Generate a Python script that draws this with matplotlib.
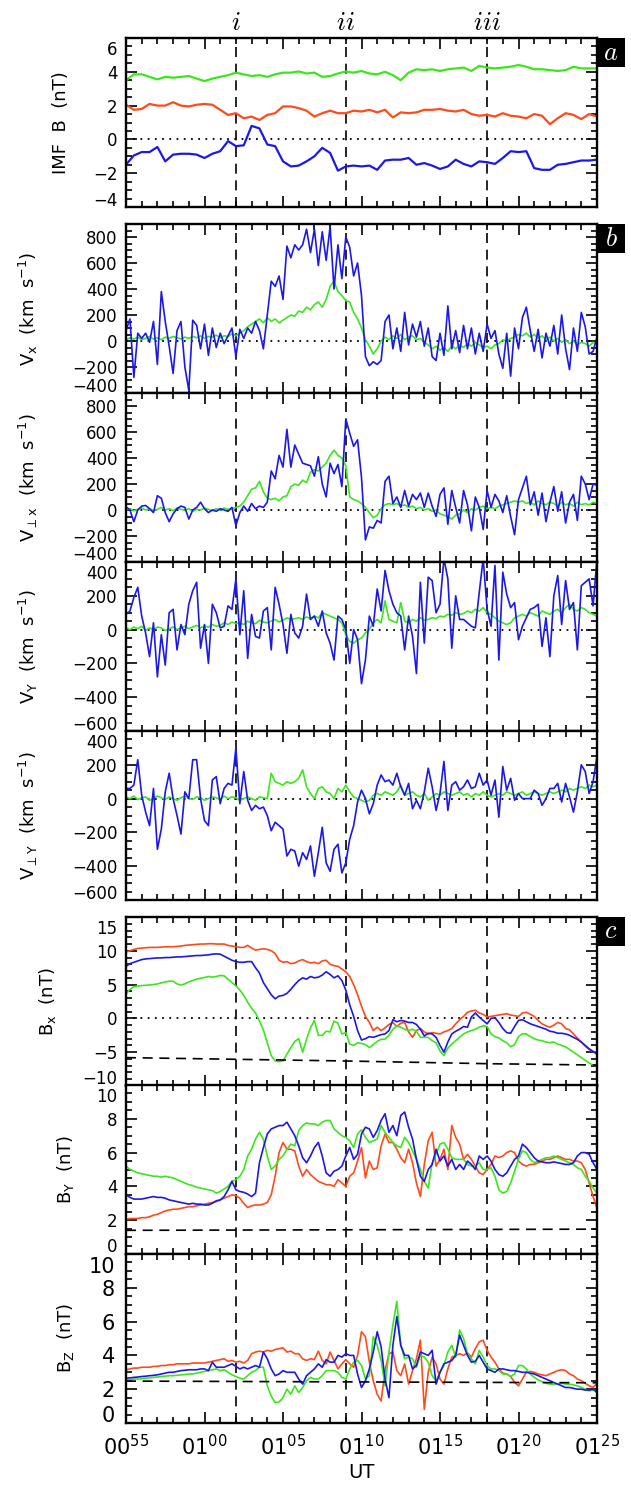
import numpy as np
import matplotlib
matplotlib.use('Agg')
import matplotlib.pyplot as plt
from matplotlib.ticker import MultipleLocator, AutoMinorLocator, FixedLocator, FixedFormatter
from matplotlib.patches import Rectangle
import matplotlib.transforms as mtransforms

plt.rcParams['font.family'] = ['DejaVu Sans']
plt.rcParams['mathtext.fontset'] = 'dejavusans'

# time axes: minutes after 00:55 UT
t_imf = np.arange(61) * 0.5
t_hr = np.arange(121) * 0.25

events = [7.0, 14.0, 23.0]
event_names = ['i', 'ii', 'iii']

xtick_pos = [0, 5, 10, 15, 20, 25, 30]
xtick_names = ['00^{55}', '01^{00}', '01^{05}', '01^{10}', '01^{15}', '01^{20}', '01^{25}']

# ---- panel a: IMF (0.5 min) ----
imf_bt = [3.5, 3.85, 3.85, 3.7, 3.55, 3.7, 3.65, 3.7, 3.75, 3.6,
          3.45, 3.6, 3.7, 3.8, 3.95, 3.85, 3.75, 3.8, 3.7, 3.85,
          3.95, 3.95, 4.02, 3.9, 3.95, 3.7, 3.75, 3.9, 4.02, 3.95,
          4.05, 3.9, 3.85, 4.0, 3.8, 3.5, 3.95, 4.15, 4.1, 4.15,
          4.05, 4.15, 4.2, 4.25, 4.05, 4.35, 4.25, 4.2, 4.25, 4.3,
          4.4, 4.3, 4.15, 4.15, 4.1, 4.05, 4.1, 4.3, 4.2, 4.2,
          4.2]
imf_by = [2.05, 1.75, 1.8, 2.1, 2.0, 2.0, 2.2, 2.0, 1.95, 2.05,
          2.1, 2.05, 1.75, 1.45, 1.55, 1.25, 1.35, 1.15, 1.45, 1.55,
          1.95, 1.95, 1.85, 1.7, 1.35, 1.55, 1.7, 1.55, 1.55, 1.7,
          1.65, 1.75, 1.6, 1.75, 1.3, 1.6, 1.55, 1.6, 1.75, 1.75,
          1.8, 1.7, 1.65, 1.75, 1.5, 1.4, 1.45, 1.35, 1.55, 1.4,
          1.35, 1.25, 1.5, 1.4, 0.9, 1.25, 1.55, 1.45, 1.2, 1.5,
          1.35]
imf_bz = [-1.5, -0.95, -0.75, -0.75, -0.45, -1.3, -0.9, -0.85, -0.85, -0.9,
          -1.1, -0.85, -0.7, -0.1, -0.4, -0.35, 0.8, 0.65, -0.3, -0.4,
          -1.3, -1.6, -1.55, -1.3, -1.0, -0.5, -0.8, -1.85, -1.6, -1.55,
          -1.6, -1.55, -1.8, -1.25, -1.2, -1.2, -1.1, -1.5, -1.4, -1.55,
          -1.75, -1.6, -1.2, -1.45, -1.6, -1.3, -1.35, -1.45, -1.1, -0.7,
          -0.75, -0.7, -1.7, -1.8, -1.8, -1.5, -1.45, -1.35, -1.25, -1.25,
          -1.2]

# ---- panel b: velocities (0.25 min), blue and green ----
vx_blue = [80, 170, -280, 60, 20, 60, -10, 150,
           -180, 380, 150, -40, -250, 80, 150, -200,
           -380, 160, 120, -60, 130, -110, 100, -50,
           60, -20, 40, 100, -120, 90, 20, 100,
           60, 150, 80, -60, 200, 460, 420, 500,
           320, 730, 640, 740, 700, 740, 860, 680,
           860, 580, 840, 620, 880, 400, 740, 480,
           800, 720, 500, 600, 350, -120, -190, -160,
           -180, -150, 150, 200, -60, 100, -80, 220,
           -30, 130, 30, 150, -40, 100, -120, -150,
           60, -110, 270, -60, 80, -90, 120, -60,
           100, -100, 60, -80, 130, 20, 80, -100,
           -210, 60, -270, 100, -60, 180, 260, 80,
           -80, 90, -130, 60, -40, 120, -100, 200,
           -60, -220, 100, -80, 220, 110, -100, -80,
           30]
vx_green = [10, 25, 15, 30, 10, 20, 35, 15,
            25, 10, 30, 20, 35, 25, 15, 30,
            20, 35, 25, 40, 20, 35, 30, 45,
            25, 40, 35, 55, 40, 60, 80, 110,
            130, 150, 170, 140, 180, 150, 170, 140,
            160, 180, 200, 190, 230, 220, 260, 240,
            280, 300, 260, 320, 420, 460, 380, 350,
            310, 300, 220, 170, 100, 10, -40, -100,
            -60, 0, 30, 10, 40, 20, 50, 10,
            30, 40, 10, 20, -10, -30, -60, -40,
            -70, -50, -80, -40, -60, -30, -50, -20,
            -40, -10, -30, -50, -40, -60, -30, -20,
            10, 0, 20, 30, 50, 40, 60, 30,
            50, 20, 40, 10, 30, 0, 20, -10,
            10, -20, 0, -30, -10, -20, -40, -10,
            -30]
vpx_blue = [25, 0, -90, 0, 30, 35, 10, -20,
            110, 90, -20, -90, -30, 10, 30, 20,
            -70, 0, 20, 60, 10, -20, 0, -10,
            10, 0, -10, 20, -120, -20, 30, -10,
            50, 10, 30, 20, 60, 300, 240, 420,
            330, 620, 330, 500, 430, 360, 350, 340,
            260, 410, 200, 100, 360, 280, 350, 180,
            700, 590, 490, 540, 250, -230, -130, -140,
            -80, -100, 220, 260, 50, 100, 20, 150,
            30, 120, 80, 130, 20, 130, 30, -50,
            120, 170, -110, 150, 20, -100, 150, 40,
            -160, 100, 20, -150, 150, 20, 120, 70,
            -20, 110, -50, -190, 80, 170, 260, 40,
            140, -40, 130, -90, 60, 180, -10, 140,
            -100, 60, 120, -80, 260, 200, 80, 200,
            190]
vpx_green = [0, 10, -5, 5, 15, 0, 10, -5,
             5, 20, 0, 10, -5, 15, 5, 0,
             10, -10, 5, 0, 15, 5, -5, 10,
             0, 15, 5, 10, 20, 30, 60, 110,
             160, 170, 220, 140, 90, 80, 90, 70,
             100, 110, 180, 200, 190, 230, 210, 290,
             310, 300, 330, 360, 420, 460, 420, 400,
             340, 100, 80, 70, 50, 20, -20, -60,
             -40, 10, 40, 50, 40, 50, 30, 40,
             20, 30, 10, 20, 0, 10, -10, 0,
             -30, -40, -50, -70, -40, -30, 0, -20,
             10, 0, 20, 30, 10, 20, 10, 30,
             40, 50, 60, 70, 60, 70, 50, 60,
             40, 70, 50, 40, 60, 50, 30, 60,
             40, 50, 30, 60, 40, 50, 40, 60,
             50]
vy_blue = [90, 110, 190, 250, 80, -20, -160, 40,
           -280, -30, -210, 100, 120, -120, 30, -30,
           150, 230, 280, -110, 30, -200, 150, 100,
           10, 20, 140, 120, 300, -30, 230, -170,
           90, -40, -50, 110, 130, -120, 250, 150,
           30, -140, 90, -20, -50, 20, 210, 60,
           80, 20, 110, -20, -80, -180, 80, 60,
           0, -200, 0, -60, -320, -180, 80, 20,
           240, 110, 350, 230, 150, 100, 80, -120,
           80, -40, -260, 280, -80, 310, 290, 100,
           150, 420, 300, -110, 200, 60, 60, 40,
           20, 10, 220, 420, 120, 20, 380, -180,
           340, 210, 130, 160, -60, 20, 70, 120,
           130, 150, -100, 70, -160, 200, 320, 30,
           290, 120, 160, -120, 260, 280, 300, 140,
           420]
vy_green = [10, 0, 15, 5, 20, -5, 10, 0,
            15, 10, -5, 5, 15, 0, 10, 20,
            5, 15, 25, 10, 20, 15, 30, 20,
            25, 40, 30, 45, 35, 40, 30, 50,
            40, 35, 55, 45, 40, 50, 60, 45,
            55, 70, 60, 65, 70, 60, 75, 65,
            80, 70, 100, 90, 80, 70, 60, 40,
            -30, -70, -80, -60, -50, -20, 0, 40,
            60, 40, 170, 60, 50, 40, 160, 50,
            40, 60, 50, 70, 55, 60, 70, 65,
            80, 75, 90, 85, 100, 90, 95, 110,
            100, 120, 110, 130, 100, 90, 70, 50,
            40, 30, 40, 70, 80, 90, 80, 100,
            90, 80, 110, 100, 90, 110, 120, 100,
            130, 150, 120, 110, 130, 120, 100, 90,
            80]
vpy_blue = [60, 60, 80, 230, 20, -80, -160, 60,
            -300, -180, 40, 150, 0, -100, -210, 40,
            0, 230, 230, 0, -130, -160, 110, 130,
            -30, 60, 90, 80, 300, -30, 160, -10,
            -70, -40, -60, -50, -100, -190, -140, -160,
            -180, -340, -300, -310, -400, -320, -360, -280,
            -460, -320, -170, -380, -430, -300, -270, -440,
            -380, -240, -160, -20, 50, 0, -90, -30,
            80, 140, 100, 110, 80, 150, 70, 20,
            90, -60, -10, -60, 40, 180, 70, -70,
            30, 220, -70, 80, 100, 50, 70, 110,
            60, 70, 150, 80, 110, 20, 110, -110,
            190, 50, 120, -10, 30, 0, 0, 0,
            50, 30, -40, 0, 60, 60, 90, -20,
            90, 10, -80, 40, 200, 160, 30, 100,
            250]
vpy_green = [10, 0, 15, -5, 5, 10, -10, 0,
             15, 5, -5, 10, 0, -10, 5, 15,
             0, -5, 10, 5, -10, 0, 10, 5,
             -5, 15, 0, 10, 5, -10, 0, 10,
             0, -10, 10, 5, 0, 150, 100, 90,
             80, 100, 90, 100, 120, 170, 70, 30,
             0, 60, 70, 40, 30, 0, 60, 40,
             80, 40, 10, 0, -10, -20, -10, 20,
             30, 20, 40, 30, 20, 40, 80, 20,
             30, 40, 20, 10, 30, -10, 10, 30,
             20, 40, 30, 20, 30, 40, 20, 30,
             10, 30, 20, 40, 20, 10, 20, 30,
             20, 40, 30, 20, 30, 40, 20, 30,
             40, 30, 20, 30, 40, 30, 40, 50,
             40, 60, 50, 60, 70, 60, 80, 70,
             80]

# ---- panel c: magnetic field (0.25 min), red / green / blue ----
bx_red = [9.8, 10.0, 10.2, 10.35, 10.4, 10.45, 10.5, 10.5,
          10.5, 10.55, 10.6, 10.6, 10.6, 10.65, 10.7, 10.8,
          10.85, 10.9, 10.95, 11.0, 11.0, 11.05, 11.05, 11.0,
          11.0, 11.0, 10.8, 10.7, 10.6, 10.5, 10.5, 10.8,
          10.4, 10.1, 10.2, 10.3, 10.2, 10.0, 9.6, 8.6,
          8.3, 8.4, 8.1, 8.2, 8.5, 8.7, 8.4, 8.2,
          8.3, 8.1, 8.5, 8.6, 8.0, 7.8, 7.7, 7.3,
          6.9, 6.2, 5.0, 3.5, 1.8, 0.3, -0.6, -1.8,
          -1.3, -1.8, -1.4, -0.9, -0.6, -1.2, -0.7, -0.6,
          -2.0, -2.8, -1.8, -1.5, -2.0, -2.3, -2.1, -2.2,
          -2.3, -2.0, -1.8, -1.5, -0.8, -0.2, 0.3, 0.9,
          1.1, 1.2, 0.8, 0.6, 0.2, 0.3, 0.4, 0.5,
          0.6, 0.7, 0.5, 0.4, 0.3, 0.8, 0.9, 0.6,
          0.3, -0.3, -0.8, -1.1, -1.3, -1.0, -0.6, -0.8,
          -1.5, -1.7, -2.3, -2.9, -3.5, -4.1, -4.6, -4.9,
          -5.0]
bx_green = [3.6, 4.3, 4.7, 4.8, 4.85, 4.9, 4.95, 5.0,
            5.1, 5.25, 5.4, 5.5, 5.5, 5.1, 4.95, 5.1,
            5.4, 5.6, 5.8, 5.95, 6.05, 6.2, 6.1, 6.2,
            6.35, 6.3, 5.8, 5.3, 4.8, 4.2, 3.4, 2.4,
            1.5, 0.8, -0.35, -1.7, -3.6, -5.5, -6.3, -6.4,
            -6.3, -5.3, -4.3, -3.4, -3.0, -5.0, -3.1, -1.4,
            -0.3, -2.5, -2.5, -1.9, -2.0, -0.4, -0.7, -2.3,
            -2.1, -3.8, -4.0, -3.6, -3.7, -3.9, -4.3, -3.9,
            -3.4, -3.1, -3.05, -2.5, -1.6, -1.1, -1.3, -1.6,
            -1.8, -1.6, -1.9, -2.8, -2.8, -2.8, -3.3, -3.6,
            -4.8, -5.5, -4.4, -3.8, -3.3, -2.8, -2.3, -2.0,
            -1.8, -1.6, -1.3, -1.1, -1.2, -2.3, -2.7, -2.9,
            -3.3, -3.6, -4.2, -3.9, -2.7, -2.3, -2.3, -2.7,
            -3.0, -3.2, -3.3, -3.5, -3.6, -3.5, -3.8, -4.0,
            -4.2, -4.6, -5.0, -5.4, -5.8, -6.2, -6.6, -6.9,
            -7.0]
bx_blue = [7.7, 8.1, 8.3, 8.5, 8.7, 8.8, 8.85, 8.9,
           8.95, 8.95, 9.0, 9.0, 9.05, 9.1, 9.1, 9.15,
           9.2, 9.25, 9.3, 9.3, 9.35, 9.4, 9.5, 9.55,
           9.5, 9.2, 8.9, 8.6, 8.4, 8.3, 8.3, 8.4,
           8.4, 7.5, 6.7, 5.3, 4.4, 3.5, 2.9, 3.3,
           3.4, 3.7, 4.3, 5.0, 5.6, 6.0, 5.8, 6.2,
           6.0, 6.1, 6.4, 6.9, 6.5, 6.0, 6.3, 5.6,
           4.2, 2.0, 0.3, -1.8, -3.2, -3.0, -2.7, -2.8,
           -2.6, -2.4, -2.3, -1.8, -0.2, -0.5, -0.3, -0.4,
           -0.6, -0.6, -0.9, -1.6, -2.6, -2.2, -2.3, -2.8,
           -4.0, -5.0, -3.5, -2.3, -1.9, -1.6, -1.2, -1.3,
           0.2, 0.8, 0.2, -0.3, -0.8, 0.0, 0.1, -0.6,
           -1.5, -2.1, -2.2, -1.2, -0.3, -0.2, -0.5, -0.8,
           -1.0, -1.2, -1.4, -1.6, -1.9, -2.0, -2.2, -2.2,
           -2.3, -2.5, -2.8, -3.1, -3.5, -4.0, -4.5, -4.9,
           -5.3]
by_red = [2.05, 2.1, 2.1, 2.1, 2.15, 2.15, 2.2, 2.3,
          2.35, 2.45, 2.55, 2.6, 2.65, 2.65, 2.7, 2.75,
          2.8, 2.8, 2.85, 2.9, 2.95, 3.0, 3.05, 3.1,
          3.2, 3.3, 3.4, 3.5, 3.45, 3.3, 3.0, 2.75,
          2.85, 2.9, 2.9, 2.95, 3.05, 3.5, 4.6, 6.0,
          6.6, 6.2, 6.2, 6.1, 5.2, 4.6, 5.0, 4.7,
          4.5, 4.3, 4.2, 4.1, 4.1, 4.0, 4.4, 4.2,
          4.0, 4.6, 4.8, 5.5, 6.3, 4.5, 5.5, 5.0,
          5.1, 6.4, 7.1, 6.6, 6.6, 6.2, 5.7, 5.4,
          6.2, 5.4, 4.2, 3.4, 5.3, 6.7, 7.2, 5.2,
          5.6, 6.2, 5.0, 7.6, 6.9, 6.5, 5.6, 5.9,
          5.6, 5.2, 4.8, 4.7, 5.0, 5.3, 5.8, 5.7,
          5.8, 6.0, 6.1, 6.0, 5.5, 5.3, 5.2, 5.3,
          5.3, 5.4, 5.5, 5.6, 5.6, 5.7, 5.8, 5.7,
          5.6, 5.6, 5.5, 5.5, 5.4, 5.0, 4.2, 3.4,
          2.7]
by_green = [5.2, 5.0, 4.9, 4.8, 4.75, 4.7, 4.65, 4.6,
            4.6, 4.55, 4.6, 4.55, 4.5, 4.4, 4.3, 4.2,
            4.1, 4.05, 3.95, 3.9, 3.85, 3.8, 3.75, 3.6,
            3.7, 3.85, 4.0, 4.3, 4.4, 4.6, 5.0, 5.8,
            6.2, 6.8, 7.2, 6.8, 5.8, 5.0, 5.2, 5.6,
            5.8, 6.2, 6.5, 6.4, 7.3, 7.6, 7.75, 7.7,
            7.7, 7.6, 7.8, 7.9, 7.9, 7.4, 7.2, 7.0,
            6.9, 6.7, 6.3, 7.1, 7.35, 6.9, 6.6, 6.7,
            6.8, 7.6, 7.2, 6.9, 6.6, 6.4, 6.3, 6.9,
            6.6, 6.1, 5.6, 5.0, 4.3, 3.9, 5.4, 5.9,
            6.5, 6.6, 6.2, 5.7, 5.6, 5.6, 5.6, 5.3,
            5.2, 5.2, 5.4, 5.0, 5.0, 5.1, 4.6, 3.8,
            3.6, 3.7, 4.2, 4.9, 5.6, 6.1, 6.0, 5.6,
            5.4, 5.5, 5.6, 5.7, 5.7, 5.8, 5.7, 5.6,
            5.5, 5.4, 5.3, 5.1, 5.0, 4.6, 4.3, 3.9,
            3.6]
by_blue = [3.5, 3.35, 3.25, 3.25, 3.25, 3.3, 3.35, 3.4,
           3.35, 3.35, 3.3, 3.2, 3.15, 3.1, 3.05, 3.0,
           2.95, 3.0, 2.95, 2.95, 2.9, 2.9, 3.0, 3.15,
           3.2, 3.4, 3.8, 4.3, 3.8, 3.7, 3.65, 3.55,
           3.4, 3.6, 5.4, 6.3, 7.1, 7.4, 7.5, 7.6,
           7.6, 7.8, 7.4, 7.0, 6.4, 5.7, 5.4, 5.8,
           6.3, 6.6, 5.8, 4.8, 4.6, 4.9, 5.0, 5.2,
           5.8, 6.3, 5.6, 5.9, 7.1, 7.5, 7.4, 6.9,
           7.3, 7.9, 8.3, 7.2, 7.6, 7.0, 8.2, 8.4,
           7.5, 6.8, 5.6, 4.6, 4.3, 5.0, 5.3, 6.2,
           5.5, 5.8, 5.2, 5.6, 5.0, 5.3, 5.0, 5.5,
           5.3, 5.0, 5.8, 5.6, 5.8, 5.5, 5.0, 4.7,
           4.6, 4.8, 5.2, 5.6, 5.8, 6.5, 6.3, 6.0,
           5.7, 5.5, 5.45, 5.4, 5.4, 5.45, 5.4, 5.35,
           5.3, 5.3, 5.4, 5.8, 6.0, 6.0, 5.9, 5.4,
           5.0]
bz_red = [3.15, 3.2, 3.25, 3.25, 3.3, 3.3, 3.3, 3.35,
          3.35, 3.4, 3.4, 3.45, 3.45, 3.5, 3.5, 3.5,
          3.5, 3.55, 3.55, 3.55, 3.55, 3.6, 3.65, 3.7,
          3.75, 3.8, 3.65, 3.7, 3.6, 3.65, 3.55, 3.7,
          4.1, 4.2, 4.25, 4.2, 4.3, 4.25, 4.35, 4.4,
          4.45, 4.2, 4.25, 4.1, 4.1, 3.8, 3.7, 3.8,
          3.75, 4.25, 3.7, 3.5, 4.2, 3.7, 3.2, 3.5,
          3.75, 3.5, 3.3, 4.0, 5.4, 5.1, 3.6, 2.5,
          1.7, 1.3, 3.1, 4.1, 4.2, 3.1, 2.8, 3.5,
          2.3, 3.1, 3.8, 4.9, 0.8, 3.0, 3.9, 3.5,
          2.6, 2.3, 3.2, 3.9, 4.0, 4.1, 4.0, 4.15,
          3.9, 4.4, 4.8, 4.9, 4.3, 3.9, 3.6, 3.2,
          2.95, 2.9, 2.75, 2.4, 2.2, 2.6, 3.0, 3.05,
          3.0, 2.9, 2.85, 2.8, 2.9, 3.0, 3.1, 3.15,
          3.1, 2.9, 2.8, 2.6, 2.5, 2.35, 2.2, 2.1,
          2.35]
bz_green = [2.55, 2.57, 2.6, 2.6, 2.62, 2.65, 2.67, 2.7,
            2.72, 2.75, 2.77, 2.8, 2.8, 2.82, 2.85, 2.87,
            2.9, 2.9, 2.95, 3.0, 3.05, 3.1, 3.15, 3.2,
            3.1, 3.15, 3.0, 2.85, 2.75, 2.65, 2.6, 2.8,
            3.0, 3.1, 3.3, 3.3, 2.2, 1.6, 1.2, 1.25,
            1.5, 2.0, 1.7, 2.2, 1.8, 2.1, 2.5, 2.7,
            2.6, 2.6, 2.8, 3.1, 3.1, 3.1, 3.0, 2.7,
            2.6, 3.2, 3.6, 3.7, 3.4, 2.6, 2.8, 5.1,
            4.6, 3.7, 2.2, 4.2, 5.8, 7.2, 4.6, 3.8,
            3.9, 3.8, 3.3, 4.0, 3.9, 3.6, 2.8, 2.5,
            3.0, 3.4, 4.2, 4.6, 3.9, 5.5, 5.0, 4.1,
            3.8, 3.5, 4.3, 3.9, 3.4, 3.2, 3.2, 3.1,
            2.9, 2.9, 2.75, 2.9, 3.4, 3.4, 3.2, 2.9,
            2.7, 2.55, 2.45, 2.35, 2.3, 2.3, 2.3, 2.35,
            2.3, 2.3, 2.25, 2.2, 2.1, 2.0, 1.9, 1.95,
            1.9]
bz_blue = [2.65, 2.67, 2.7, 2.72, 2.75, 2.77, 2.8, 2.82,
           2.85, 2.9, 2.95, 3.0, 3.0, 3.05, 3.1, 3.12,
           3.15, 3.15, 3.15, 3.2, 3.2, 3.1, 3.6, 3.3,
           3.3, 3.3, 3.4, 3.5, 3.35, 3.2, 3.3, 3.2,
           3.3, 3.4, 3.3, 4.2, 3.8, 3.2, 2.8, 2.9,
           3.1, 3.0, 3.0, 3.0, 2.6, 2.3, 2.8, 3.0,
           3.2, 3.5, 3.3, 3.75, 3.6, 3.6, 4.0, 3.9,
           4.1, 4.0, 4.0, 2.9, 2.1, 2.5, 3.2, 4.2,
           5.4, 4.5, 2.6, 1.5, 4.6, 6.3, 4.6, 4.0,
           4.0, 3.2, 3.4, 4.2, 4.1, 4.0, 4.3, 2.3,
           3.0, 3.5, 3.6, 3.7, 4.0, 5.2, 4.6, 4.0,
           3.6, 3.65, 4.0, 3.6, 3.2, 3.1, 3.0, 3.2,
           3.2, 3.15, 3.1, 3.1, 3.05, 3.0, 3.0, 2.95,
           2.9, 2.8, 2.7, 2.6, 2.5, 2.4, 2.3, 2.2,
           2.1, 2.1, 2.05, 2.0, 2.0, 1.95, 1.95, 2.0,
           1.8]

# dashed reference levels (model field)
bx_model_t = [0, 7, 14, 23, 30]
bx_model = [-5.8, -6.05, -6.3, -6.7, -6.9]
by_model_t = [0, 30]
by_model = [1.4, 1.47]
bz_model_t = [0, 30]
bz_model = [2.48, 2.38]

GREEN = '#3ce61c'
RED = '#ff4a1a'
BLUE = '#1c18e8'

W, H = 631, 1486
fig = plt.figure(figsize=(W / 100, H / 100), dpi=100)
x0, x1 = 126, 597
ph = 169
tops = [38, 224, 393, 562, 731, 917, 1085, 1254]
axs = [fig.add_axes([x0 / W, 1 - (tp + ph) / H, (x1 - x0) / W, ph / H]) for tp in tops]

dash = (0, (6, 4))


def style(ax, ylim, yticks, nminor, zero=True):
    ax.set_xlim(0, 30)
    ax.set_ylim(*ylim)
    ax.yaxis.set_major_locator(FixedLocator(yticks))
    ax.yaxis.set_minor_locator(AutoMinorLocator(nminor))
    ax.xaxis.set_major_locator(MultipleLocator(5))
    ax.xaxis.set_minor_locator(MultipleLocator(1))
    ax.tick_params(which='both', direction='in', top=True, right=True,
                   width=1.2, labelsize=12, pad=6, labelbottom=False)
    ax.tick_params(which='major', length=8)
    ax.tick_params(which='minor', length=4)
    for s in ax.spines.values():
        s.set_linewidth(1.7)
    for t in events:
        ax.axvline(t, color='k', lw=1.2, ls=dash, zorder=1)
    if zero:
        ax.axhline(0, color='k', lw=1.3, ls=(0, (1, 3)), zorder=1)


# panel a
ax = axs[0]
ax.plot(t_imf, imf_bt, color=GREEN, lw=1.6)
ax.plot(t_imf, imf_by, color=RED, lw=1.6)
ax.plot(t_imf, imf_bz, color=BLUE, lw=1.6)
style(ax, (-4, 6), [-4, -2, 0, 2, 4, 6], 4)

# velocity panels
vel = [(vx_green, vx_blue), (vpx_green, vpx_blue), (vy_green, vy_blue), (vpy_green, vpy_blue)]
vlims = [(-400, 900), (-400, 900), (-600, 400), (-600, 400)]
vticks = [[-400, -200, 0, 200, 400, 600, 800], [-400, -200, 0, 200, 400, 600, 800],
          [-600, -400, -200, 0, 200, 400], [-600, -400, -200, 0, 200, 400]]
for k, (g, b) in enumerate(vel):
    ax = axs[1 + k]
    ax.plot(t_hr, g, color=GREEN, lw=1.2)
    ax.plot(t_hr, b, color=BLUE, lw=1.2)
    style(ax, vlims[k], vticks[k], 4)

# field panels
ax = axs[5]
ax.plot(t_hr, bx_red, color=RED, lw=1.2)
ax.plot(t_hr, bx_green, color=GREEN, lw=1.2)
ax.plot(t_hr, bx_blue, color=BLUE, lw=1.2)
ax.plot(bx_model_t, bx_model, color='k', lw=1.2, ls=dash)
style(ax, (-10, 15), [-10, -5, 0, 5, 10, 15], 5)

ax = axs[6]
ax.plot(t_hr, by_red, color=RED, lw=1.2)
ax.plot(t_hr, by_green, color=GREEN, lw=1.2)
ax.plot(t_hr, by_blue, color=BLUE, lw=1.2)
ax.plot(by_model_t, by_model, color='k', lw=1.2, ls=dash)
style(ax, (0, 10), [0, 2, 4, 6, 8, 10], 4, zero=False)

ax = axs[7]
ax.plot(t_hr, bz_red, color=RED, lw=1.2)
ax.plot(t_hr, bz_green, color=GREEN, lw=1.2)
ax.plot(t_hr, bz_blue, color=BLUE, lw=1.2)
ax.plot(bz_model_t, bz_model, color='k', lw=1.2, ls=dash)
style(ax, (0, 10), [0, 2, 4, 6, 8, 10], 4, zero=False)

# bottom time labels
axs[7].tick_params(labelbottom=True, labelsize=15, pad=8)
axs[7].xaxis.set_major_locator(FixedLocator(xtick_pos))
axs[7].xaxis.set_major_formatter(FixedFormatter([r'$\mathregular{%s}$' % s for s in xtick_names]))
fig.text(361 / W, 1 - 1472 / H, 'UT', ha='center', va='center', fontsize=14)

# y labels
unit = r'  (km  s$^\mathregular{-1}$)'
ylabels = [('IMF  B  (nT)', 61),
           (r'V$_\mathregular{x}$' + unit, 28),
           (r'V$_\perp$$_\mathregular{x}$' + unit, 28),
           (r'V$_\mathregular{Y}$' + unit, 28),
           (r'V$_\perp$$_\mathregular{Y}$' + unit, 28),
           (r'B$_\mathregular{x}$  (nT)', 47),
           (r'B$_\mathregular{Y}$  (nT)', 66),
           (r'B$_\mathregular{Z}$  (nT)', 66)]
for (txt, xp), tp in zip(ylabels, tops):
    fig.text(xp / W, 1 - (tp + ph / 2) / H, txt, rotation=90, ha='center', va='center', fontsize=13)

# event names above the top panel
trans = mtransforms.blended_transform_factory(axs[0].transData, axs[0].transAxes)
for t, name in zip(events, event_names):
    axs[0].text(t, 1 + 8 / ph, r'$%s$' % name, transform=trans, ha='center', va='baseline',
                fontsize=19, math_fontfamily='cm')

# panel letters in black boxes
for ax, letter in zip([axs[0], axs[1], axs[5]], ['a', 'b', 'c']):
    bw, bh = 28 / (x1 - x0), 29 / ph
    ax.add_patch(Rectangle((1.0, 1 - bh), bw, bh, transform=ax.transAxes,
                           facecolor='black', edgecolor='none', clip_on=False, zorder=5))
    ax.text(1 + bw / 2, 1 - bh / 2, r'$%s$' % letter, transform=ax.transAxes, color='white',
            ha='center', va='center', fontsize=19, math_fontfamily='cm', zorder=6)

# keep the end labels inside each panel, as in the original
fig.canvas.draw()
up = mtransforms.ScaledTranslation(0, 0.015, fig.dpi_scale_trans)
down = mtransforms.ScaledTranslation(0, -0.03, fig.dpi_scale_trans)
for ax in axs:
    lo, hi = ax.get_ylim()
    for tick, loc in zip(ax.yaxis.get_major_ticks(), ax.get_yticks()):
        if abs(loc - lo) < 1e-9:
            tick.label1.set_va('baseline')
            tick.label1.set_transform(tick.label1.get_transform() + up)
        elif abs(loc - hi) < 1e-9:
            tick.label1.set_va('top')
            tick.label1.set_transform(tick.label1.get_transform() + down)

fig.savefig('out.png', dpi=100)
